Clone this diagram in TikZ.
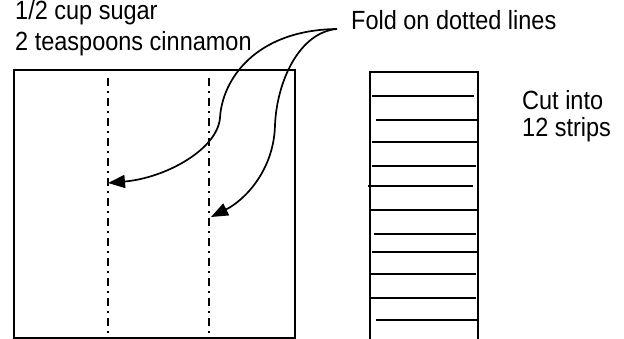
\documentclass[tikz,border=0pt]{standalone}
\usepackage{fontspec}
\usepackage{graphicx}
\setmainfont{Liberation Sans}
\usetikzlibrary{arrows.meta}
\newcommand{\talltext}[1]{\scalebox{1}[1.12]{#1}}
\begin{document}
\begin{tikzpicture}[x=1pt,y=-1pt,
  lbl/.style={anchor=base west,inner sep=0pt,font=\fontsize{23.5}{28}\selectfont},
  edge/.style={line width=2.4pt},
  foldline/.style={line width=2.2pt,dash pattern=on 8pt off 5pt on 1.8pt off 5.2pt},
  cutline/.style={line width=2.4pt},
  pointer/.style={line width=1.7pt,-{Triangle[length=17pt,width=13pt]}}]
\useasboundingbox (0,0) rectangle (624,339);
% texts
\node[lbl] (sugar) at (15,19.5) {\talltext{1/2 cup sugar}};
\node[lbl] (cinn) at (15,50.5) {\talltext{2 teaspoons cinnamon}};
\node[lbl] (fold) at (351,30) {\talltext{Fold on dotted lines}};
\node[lbl] (cut) at (522,110) {\talltext{Cut into}};
\node[lbl] (strips) at (522,137) {\talltext{12 strips}};
% folding sheet
\draw[edge] (14,70) rectangle (295,338);
\coordinate (fa) at (108,78);
\coordinate (fb) at (209,78);
\draw[foldline] (fa) -- (108,339);
\draw[foldline] (fb) -- (209,339);
% pointers
\coordinate (src) at (337,29);
\coordinate (tipA) at (108,183);
\coordinate (tipB) at (211,217);
\draw[pointer] (src) .. controls (255,30) and (222,80) .. (220,118)
  .. controls (217,150) and (165,178) .. (tipA);
\draw[pointer] (src) .. controls (300,32) and (277,80) .. (275,125)
  .. controls (274,170) and (245,200) .. (tipB);
% strips
\draw[edge] (370,339) -- (370,72) -- (478,72) -- (478,339);
\draw[cutline] (372,96) -- (474,96);
\draw[cutline] (376,120) -- (477,120);
\draw[cutline] (372,142) -- (477,142);
\draw[cutline] (372,166) -- (476,166);
\draw[cutline] (368,186) -- (473,186);
\draw[cutline] (370,210) -- (477,210);
\draw[cutline] (374,234) -- (476,234);
\draw[cutline] (372,252) -- (477,252);
\draw[cutline] (370,274) -- (476,274);
\draw[cutline] (370,298) -- (476,298);
\draw[cutline] (376,320) -- (477,320);
\end{tikzpicture}
\end{document}
